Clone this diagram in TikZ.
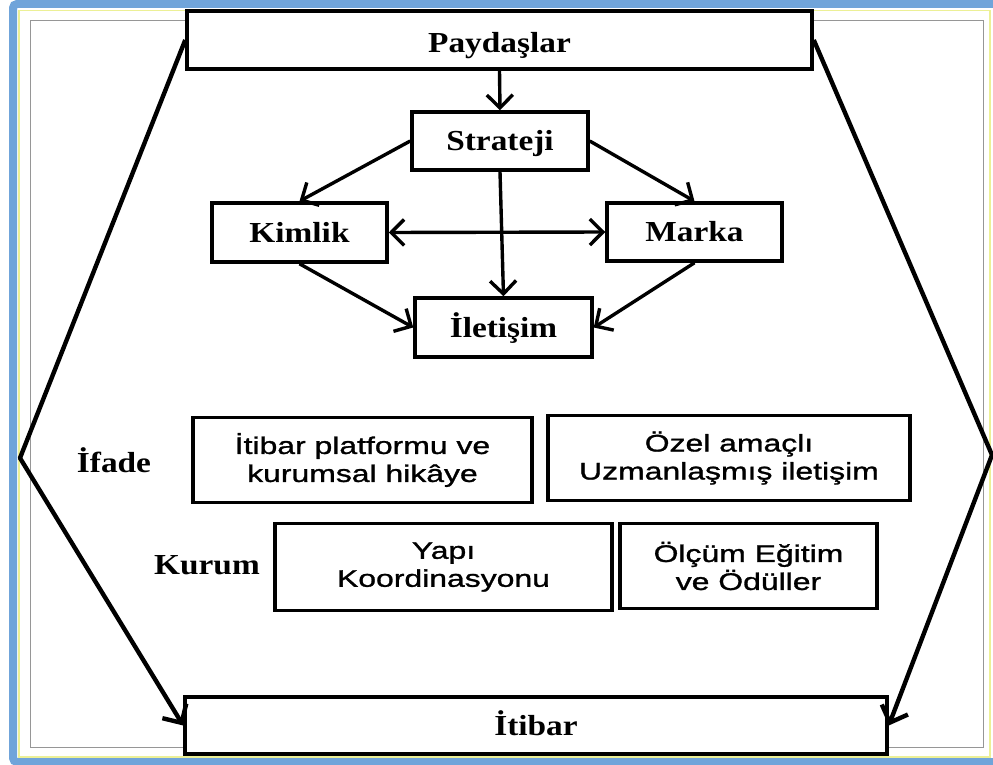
\documentclass[tikz,border=0pt]{standalone}
\usepackage{fontspec}
\usetikzlibrary{arrows.meta}
\newfontfamily\lblfont{Liberation Serif}[FakeStretch=1.15]
\newfontfamily\boxfont{Liberation Sans}[FakeStretch=1.33,FakeBold=1.2]
\definecolor{frameblue}{RGB}{112,164,218}
\definecolor{frameyellow}{RGB}{236,240,150}
\definecolor{framegray}{RGB}{150,150,150}

\begin{document}
\begin{tikzpicture}[x=1pt,y=-1pt,
  box/.style={draw, line width=3.5pt, fill=white, inner sep=0pt, align=center},
  toplabel/.style={font=\lblfont\bfseries\fontsize{29}{33}\selectfont},
  boxlabel/.style={toplabel, text height=24pt, text depth=5pt},
  boxtext/.style={font=\boxfont\fontsize{24}{28}\selectfont},
  conn/.style={line width=3.4pt, -{Straight Barb[length=13pt,width=26pt]}},
  twoway/.style={line width=3.4pt, {Straight Barb[length=13pt,width=26pt]}-{Straight Barb[length=13pt,width=26pt]}},
  hexline/.style={line width=4.4pt, line join=round, -{Straight Barb[length=14pt,width=28pt]}}
]
\useasboundingbox (0,0) rectangle (993,765);

% outer frame: blue band, yellow rule, thin grey inner rule
\draw[frameblue, line width=8pt, rounded corners=4pt] (13,4) rectangle (998,762);
\draw[frameyellow, line width=1.6pt] (19,10.5) rectangle (990,757);
\draw[framegray, line width=1pt] (30,21) rectangle (983,747);

% top and bottom bars
\node[box, toplabel, text height=30pt, text depth=5pt, minimum width=625, minimum height=58] (Paydaslar) at (499.5,40) {Paydaşlar};
\node[box, boxlabel, minimum width=702, minimum height=57] (Itibar) at (536,725.5) {İtibar};

% strategy diamond
\node[box, boxlabel, minimum width=176, minimum height=58] (Strateji) at (500,141) {Strateji};
\node[box, boxlabel, minimum width=175, minimum height=59] (Kimlik) at (299.5,232.5) {Kimlik};
\node[box, boxlabel, minimum width=175, minimum height=58] (Marka) at (694.5,232) {Marka};
\node[box, boxlabel, minimum width=177, minimum height=59] (Iletisim) at (503.5,327.5) {İletişim};

% expression and institution rows
\node[toplabel] (Ifade) at (114,460) {İfade};
\node[toplabel] (Kurum) at (207,565) {Kurum};
\node[box, boxtext, minimum width=339, minimum height=85] (Platform) at (362.5,460) {İtibar platformu ve\\kurumsal hikâye};
\node[box, boxtext, minimum width=362, minimum height=85] (Ozel) at (729,458) {Özel amaçlı\\Uzmanlaşmış iletişim};
\node[box, boxtext, minimum width=337, minimum height=87] (Yapi) at (443.5,567) {Yapı\\Koordinasyonu};
\node[box, boxtext, minimum width=257, minimum height=85] (Olcum) at (748.5,566) {Ölçüm Eğitim\\ve Ödüller};

% connectors
\draw[conn] (Paydaslar.south) -- (Strateji.north);
\draw[conn] (Strateji.west) -- (Kimlik.north);
\draw[conn] (Strateji.east) -- (Marka.north);
\draw[conn] (Strateji.south) -- (Iletisim.north);
\draw[twoway] (Kimlik.east) -- (Marka.west);
\draw[conn] (Kimlik.south) -- (Iletisim.west);
\draw[conn] (Marka.south) -- (Iletisim.east);

% hexagon sides from the stakeholders down to reputation
\coordinate (LeftApex) at (20,458);
\coordinate (RightApex) at (992,455);
\draw[hexline] (Paydaslar.west) -- (LeftApex) -- (Itibar.west);
\draw[hexline] (Paydaslar.east) -- (RightApex) -- (Itibar.east);
\end{tikzpicture}
\end{document}
